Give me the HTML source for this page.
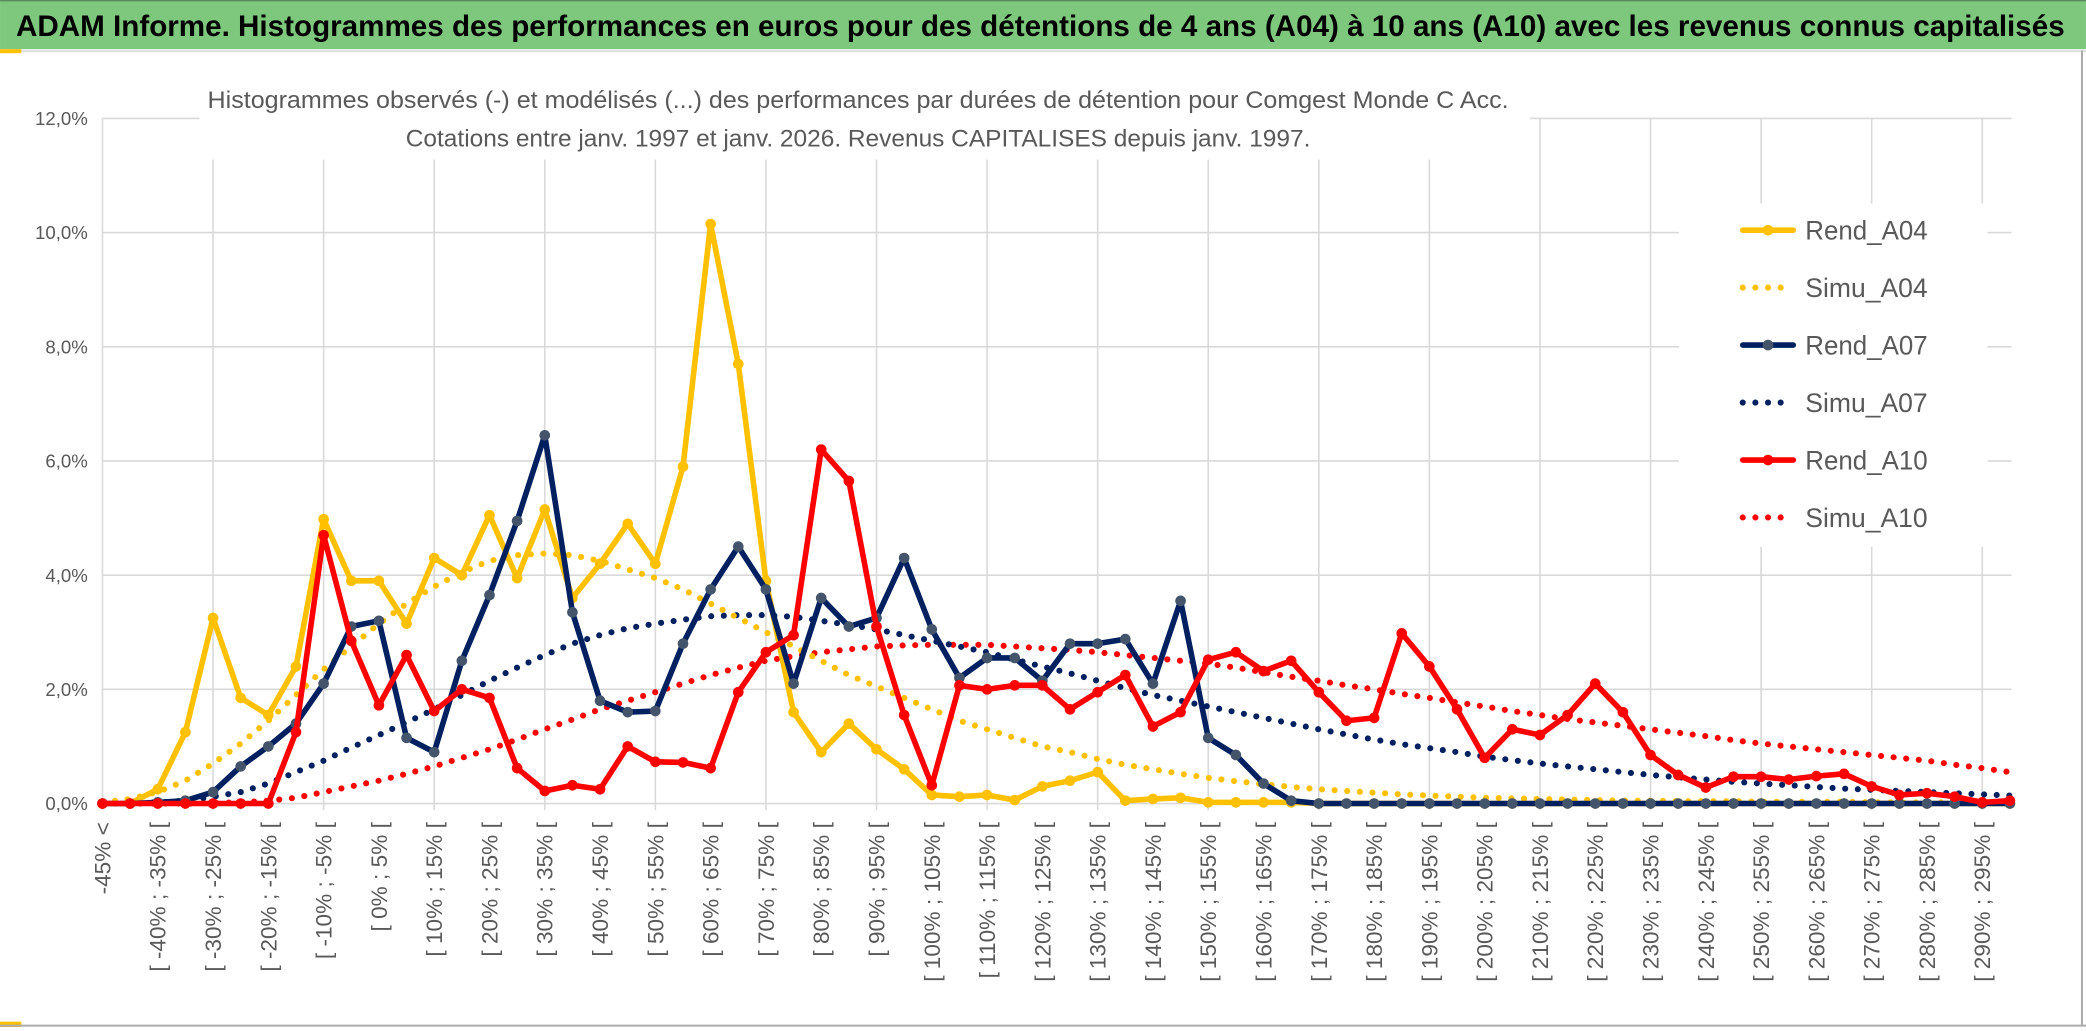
<!DOCTYPE html>
<html><head><meta charset="utf-8"><style>
html,body{margin:0;padding:0;background:#fff;}
svg{display:block;}
text{font-family:"Liberation Sans",sans-serif;}
</style></head><body>
<svg id="chart" width="2086" height="1031" viewBox="0 0 1568 775" xmlns="http://www.w3.org/2000/svg">
<rect x="0" y="0" width="1568" height="775" fill="#fff"/>
<rect x="0" y="0" width="1568" height="37" fill="#7DC87D"/>
<line x1="0" y1="0.5" x2="1568" y2="0.5" stroke="#5a8a5a" stroke-width="1"/>
<text x="12" y="27" font-size="22" font-weight="bold" fill="#000" textLength="1540" lengthAdjust="spacingAndGlyphs">ADAM Informe. Histogrammes des performances en euros pour des détentions de 4 ans (A04) à 10 ans (A10) avec les revenus connus capitalisés</text>
<line x1="0" y1="38.5" x2="1568" y2="38.5" stroke="#ddd" stroke-width="1.5"/>
<rect x="0" y="37" width="16" height="3" fill="#FFC000"/>
<rect x="0" y="768" width="16" height="4" fill="#FFC000"/>
<line x1="0" y1="771" x2="1568" y2="771" stroke="#aaa" stroke-width="1.5"/>
<line x1="1565" y1="38" x2="1565" y2="771" stroke="#aaa" stroke-width="1.5"/>
<g id="grid"></g>
<rect x="150" y="52" width="1000" height="68" fill="#fff"/>
<text x="645" y="81" font-size="18" fill="#595959" text-anchor="middle" textLength="978" lengthAdjust="spacingAndGlyphs">Histogrammes observés (-) et modélisés (...) des performances par durées de détention pour Comgest Monde C Acc.</text>
<text x="645" y="110" font-size="18" fill="#595959" text-anchor="middle" textLength="680" lengthAdjust="spacingAndGlyphs">Cotations entre janv. 1997 et janv. 2026. Revenus CAPITALISES depuis janv. 1997.</text>
<rect x="1262" y="153" width="232" height="258" fill="#fff"/>
<g id="series"></g>
<g id="legend"></g>
</svg>
<script>
const categoriesCount = 70;
const yTicks = [0,2,4,6,8,10,12];
const yTickLabels = ["0,0%","2,0%","4,0%","6,0%","8,0%","10,0%","12,0%"];
const rendA04 = [0,0,0.25,1.25,3.25,1.85,1.55,2.4,4.98,3.9,3.9,3.15,4.3,4.0,5.05,3.95,5.15,3.6,4.2,4.9,4.2,5.9,10.15,7.7,3.9,1.6,0.9,1.4,0.95,0.6,0.15,0.12,0.15,0.06,0.3,0.4,0.55,0.05,0.08,0.1,0.02,0.02,0.02,0.02,0,0,0,0,0,0,0,0,0,0,0,0,0,0,0,0,0,0,0,0,0,0,0,0,0,0];
const simuA04 = [0.02,0.08,0.2,0.4,0.7,1.05,1.45,1.9,2.35,2.75,3.15,3.5,3.8,4.05,4.25,4.35,4.38,4.35,4.25,4.1,3.95,3.75,3.5,3.25,3.0,2.75,2.5,2.25,2.05,1.85,1.65,1.45,1.3,1.15,1.0,0.9,0.78,0.68,0.6,0.52,0.45,0.39,0.34,0.29,0.25,0.22,0.19,0.16,0.14,0.12,0.1,0.09,0.08,0.07,0.06,0.05,0.05,0.04,0.04,0.04,0.03,0.03,0.03,0.03,0.02,0.02,0.02,0.02,0.02,0.02];
const rendA07 = [0,0,0.02,0.05,0.2,0.65,1.0,1.4,2.1,3.1,3.2,1.15,0.9,2.5,3.65,4.95,6.45,3.35,1.8,1.6,1.62,2.8,3.75,4.5,3.75,2.1,3.6,3.1,3.25,4.3,3.05,2.2,2.55,2.55,2.15,2.8,2.8,2.88,2.1,3.55,1.15,0.85,0.35,0.05,0,0,0,0,0,0,0,0,0,0,0,0,0,0,0,0,0,0,0,0,0,0,0,0,0,0];
const simuA07 = [0,0.01,0.02,0.05,0.12,0.2,0.35,0.55,0.75,0.98,1.2,1.42,1.65,1.9,2.15,2.38,2.6,2.8,2.95,3.07,3.15,3.22,3.28,3.3,3.3,3.27,3.2,3.13,3.05,2.95,2.85,2.75,2.65,2.52,2.4,2.28,2.15,2.02,1.9,1.8,1.7,1.6,1.5,1.4,1.3,1.21,1.12,1.04,0.97,0.9,0.82,0.76,0.7,0.65,0.6,0.55,0.5,0.46,0.42,0.38,0.35,0.32,0.29,0.26,0.24,0.22,0.2,0.18,0.16,0.14];
const rendA10 = [0,0,0,0,0,0,0,1.25,4.7,2.85,1.72,2.6,1.62,2.0,1.85,0.62,0.22,0.32,0.25,1.0,0.73,0.72,0.62,1.95,2.65,2.95,6.2,5.65,3.1,1.55,0.32,2.07,2.0,2.07,2.07,1.65,1.95,2.25,1.35,1.6,2.52,2.65,2.32,2.5,1.95,1.45,1.5,2.98,2.4,1.65,0.8,1.3,1.2,1.55,2.1,1.6,0.85,0.5,0.28,0.47,0.47,0.42,0.48,0.52,0.3,0.15,0.18,0.12,0.02,0.05];
const simuA10 = [0,0,0,0,0.01,0.02,0.05,0.1,0.2,0.3,0.4,0.52,0.65,0.8,0.95,1.12,1.3,1.47,1.65,1.8,1.95,2.1,2.25,2.38,2.5,2.58,2.65,2.7,2.75,2.77,2.78,2.78,2.78,2.75,2.72,2.69,2.65,2.6,2.55,2.5,2.45,2.38,2.3,2.22,2.15,2.07,2.0,1.92,1.85,1.77,1.7,1.62,1.55,1.48,1.42,1.36,1.3,1.24,1.18,1.11,1.05,1.0,0.95,0.9,0.85,0.8,0.75,0.68,0.62,0.55];

const NS = "http://www.w3.org/2000/svg";
const X0 = 77, DX = 20.78, Y0 = 604, YTOP = 89;
function xPos(i){ return X0 + i*DX; }
function yPos(v){ return Y0 - v/12*(Y0-YTOP); }
function mk(tag, attrs, parent){ const e=document.createElementNS(NS,tag); for(const k in attrs) e.setAttribute(k,attrs[k]); parent.appendChild(e); return e; }
function catLabel(i){ if(i===0) return "-45% <"; const lo=-45+(i-1)*5; return "[ "+lo+"% ; "+(lo+5)+"% ["; }

const grid = document.getElementById('grid');
yTicks.forEach((t,k)=>{
  const l = mk('line',{x1:X0,x2:1512,y1:yPos(t),y2:yPos(t),stroke:"#d9d9d9","stroke-width":1.2},grid);
  
  
  const tx = mk('text',{x:66,y:yPos(t)+5,"font-size":14,fill:"#595959","text-anchor":"end"},grid);
  tx.textContent = yTickLabels[k];
  
  
});
for(let i=0;i<categoriesCount;i++){
  if(i%4===0){
    const g = mk('line',{x1:xPos(i),x2:xPos(i),y1:YTOP,y2:Y0+5,stroke:"#d9d9d9","stroke-width":1.2},grid);
    
    
  }
  if(i%2===0){
    const tx = mk('text',{transform:"translate("+(xPos(i)+6)+",618) rotate(-90)","font-size":17,fill:"#595959","text-anchor":"end","font-family":"DejaVu Sans, sans-serif"},grid);
    tx.textContent = catLabel(i);
    
    
  }
}

const series = document.getElementById('series');
function drawSolid(vals,color,markerFill,name){
  const g = mk('g',{},series);
  
  
  const pts = vals.map((v,i)=>xPos(i)+","+yPos(v)).join(" ");
  mk('polyline',{points:pts,fill:"none",stroke:color,"stroke-width":4.2,"stroke-linejoin":"round"},g);
  vals.forEach((v,i)=>{
    const c = mk('circle',{cx:xPos(i),cy:yPos(v),r:4,fill:markerFill},g);
    
    
  });
}
function drawDotted(vals,color,name){
  const pts = vals.map((v,i)=>xPos(i)+","+yPos(v)).join(" ");
  const p = mk('polyline',{points:pts,fill:"none",stroke:color,"stroke-width":4.6,"stroke-linecap":"round","stroke-dasharray":"0 9.5"},series);
  
  
}
drawDotted(simuA10,"#FF0000","simu-a10-line");
drawDotted(simuA07,"#002060","simu-a07-line");
drawDotted(simuA04,"#FFC000","simu-a04-line");
drawSolid(rendA04,"#FFC000","#FFC000","rend-a04-line");
drawSolid(rendA07,"#002060","#44546A","rend-a07-line");
drawSolid(rendA10,"#FF0000","#FF0000","rend-a10-line");

const legend = document.getElementById('legend');
const legNames = ["Rend_A04","Simu_A04","Rend_A07","Simu_A07","Rend_A10","Simu_A10"];
const legColors = ["#FFC000","#FFC000","#002060","#002060","#FF0000","#FF0000"];
const legMarker = ["#FFC000",null,"#44546A",null,"#FF0000",null];
legNames.forEach((n,k)=>{
  const y = 173 + k*43.2;
  const g = mk('g',{},legend);
  
  
  if(legMarker[k]){
    mk('line',{x1:1310,x2:1348,y1:y,y2:y,stroke:legColors[k],"stroke-width":4.2,"stroke-linecap":"round"},g);
    mk('circle',{cx:1329,cy:y,r:4,fill:legMarker[k]},g);
  } else {
    mk('line',{x1:1310,x2:1348,y1:y,y2:y,stroke:legColors[k],"stroke-width":4.6,"stroke-linecap":"round","stroke-dasharray":"0 9.5"},g);
  }
  const t = mk('text',{x:1357,y:y+7,"font-size":20,fill:"#595959",textLength:"92",lengthAdjust:"spacingAndGlyphs"},g);
  t.textContent = n;
});
</script>
</body></html>
